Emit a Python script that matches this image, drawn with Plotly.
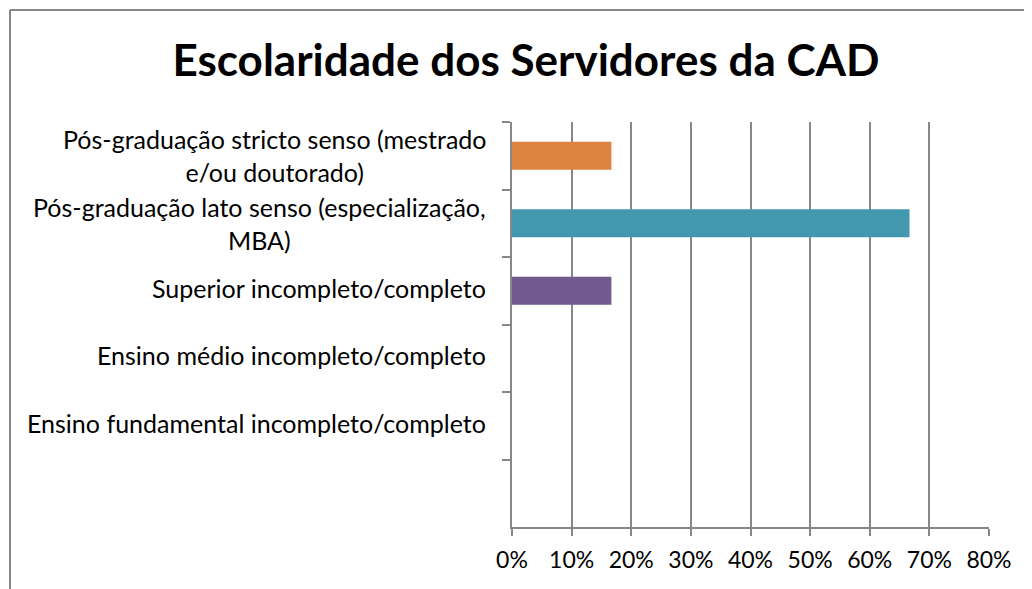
import plotly.graph_objects as go

categories = [
    "Pós-graduação stricto senso (mestrado<br>e/ou doutorado)",
    "Pós-graduação lato senso (especialização,<br>MBA)",
    "Superior incompleto/completo",
    "Ensino médio incompleto/completo",
    "Ensino fundamental incompleto/completo",
    " ",
]
values = [0.1667, 0.6667, 0.1667, 0, 0, None]
bar_colors = ["#DD8440", "#4298AF", "#72598E", "#72598E", "#72598E", "#72598E"]
x_ticks = [0, 0.1, 0.2, 0.3, 0.4, 0.5, 0.6, 0.7, 0.8]
x_tick_labels = ["0%", "10%", "20%", "30%", "40%", "50%", "60%", "70%", "80%"]
title_text = "Escolaridade dos Servidores da CAD"

# page body has an 8px margin; figure coordinates are offset by it
OFF = 8
W, H = 1032, 589
L, T = 512 - OFF, 122 - OFF
R = W - (989 - OFF)
B = H - (527 - OFF)
pw, ph = W - L - R, H - T - B
GRAY = "#878787"
FONT = "Lato"

fig = go.Figure()
fig.add_trace(go.Bar(
    y=categories, x=values, orientation="h",
    marker=dict(color=bar_colors, line=dict(width=0)),
    hoverinfo="x+y",
))

annotations = []
for c in categories:
    if c.strip() == "":
        continue
    two = "<br>" in c
    annotations.append(dict(
        text=c, xref="paper", yref="y", x=0, y=c,
        xanchor="right", yanchor="middle", align="center",
        xshift=-24, yshift=0 if two else 3, showarrow=False,
        font=dict(family=FONT, size=25, color="#000000"),
    ))

def px_x(p):
    return (p - OFF - L) / pw

def px_y(p):
    return (H - B - (p - OFF)) / ph

shapes = [
    dict(type="line", xref="paper", yref="paper",
         x0=px_x(10), x1=px_x(10), y0=px_y(10), y1=px_y(H + 20),
         line=dict(color=GRAY, width=2)),
    dict(type="line", xref="paper", yref="paper",
         x0=px_x(10), x1=px_x(W + 20), y0=px_y(10), y1=px_y(10),
         line=dict(color=GRAY, width=2)),
]

fig.update_layout(
    width=W, height=H,
    margin=dict(l=L, r=R, t=T, b=B),
    paper_bgcolor="white", plot_bgcolor="white",
    showlegend=False,
    bargap=0.585,
    title=dict(text=title_text, x=(526 - OFF) / W, xref="container", xanchor="center",
               y=1 - (61 - OFF) / H, yref="container", yanchor="middle",
               font=dict(family=FONT, size=44, color="#000000", weight="bold")),
    xaxis=dict(
        range=[0, 0.8], tickvals=x_ticks, ticktext=x_tick_labels,
        showgrid=True, gridcolor=GRAY, gridwidth=1.8,
        showline=True, linecolor=GRAY, linewidth=2,
        ticks="outside", ticklen=7, tickcolor=GRAY, tickwidth=1.8,
        ticklabelstandoff=4,
        tickfont=dict(family=FONT, size=23, color="#000000"),
        zeroline=False, fixedrange=True,
    ),
    yaxis=dict(
        categoryorder="array", categoryarray=categories, autorange="reversed",
        showgrid=False, showline=True, linecolor=GRAY, linewidth=2,
        ticks="outside", ticklen=8, tickcolor=GRAY, tickwidth=1.8,
        tickson="boundaries", showticklabels=False, fixedrange=True,
    ),
    annotations=annotations,
    shapes=shapes,
)

fig.write_html("out.html")
